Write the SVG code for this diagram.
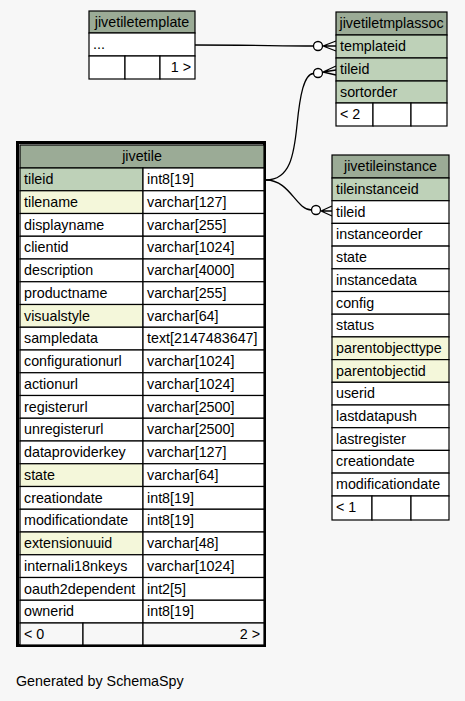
<svg xmlns="http://www.w3.org/2000/svg" width="465" height="701" viewBox="0 0 465 701">
<style>
text{font-family:"Liberation Sans",Arial,Helvetica,sans-serif;font-size:14.3px;fill:#000}
.c{stroke:#000;stroke-width:1.2}
.h{fill:#9bab96}
.pk{fill:#bed1b8}
.ix{fill:#f4f7da}
.w{fill:#fff}
.f{fill:#f7f7f7}
.mid{text-anchor:middle}
.end{text-anchor:end}
.ln{fill:none;stroke:#000;stroke-width:1.3}
.dot{fill:#fff;stroke:#000;stroke-width:1.3}
</style>
<rect width="465" height="701" fill="#f7f7f7"/>

<g id="connectors">
<path class="ln" d="M195,45 C250,45 280,46 313.5,46"/>
<circle class="dot" cx="318" cy="46" r="4.5"/>
<path class="ln" d="M323,46 L336,41 M323,46 L336,46 M323,46 L336,51"/>
<path class="ln" d="M266,180 C290,180 294,155 297,125 C300,95 304,74 313.5,73.5"/>
<circle class="dot" cx="318" cy="73" r="4.5"/>
<path class="ln" d="M323,72 L336,66 M323,72 L336,70 M323,72 L336,75"/>
<path class="ln" d="M266,180 C290,180 296,210 311.5,210"/>
<circle class="dot" cx="316" cy="210" r="4.5"/>
<path class="ln" d="M321,211 L332,206 M321,211 L332,211 M321,211 L332,216"/>
</g>

<g id="jivetiletemplate">
<rect class="c h" x="89" y="11" width="106" height="22"/>
<text class="mid" x="142" y="27">jivetiletemplate</text>
<rect class="c w" x="89" y="33" width="106" height="23"/>
<text x="93" y="49">...</text>
<rect class="c w" x="89" y="56" width="36" height="23"/>
<rect class="c w" x="125" y="56" width="35" height="23"/>
<rect class="c w" x="160" y="56" width="35" height="23"/>
<text class="end" x="191" y="72">1 &gt;</text>
</g>

<g id="jivetiletmplassoc">
<rect class="c h" x="336" y="12" width="111" height="23"/>
<text class="mid" x="391.5" y="28">jivetiletmplassoc</text>
<rect class="c pk" x="336" y="35" width="111" height="23"/>
<text x="340" y="51">templateid</text>
<rect class="c pk" x="336" y="58" width="111" height="23"/>
<text x="340" y="74">tileid</text>
<rect class="c pk" x="336" y="81" width="111" height="22"/>
<text x="340" y="97">sortorder</text>
<rect class="c w" x="336" y="103" width="37" height="23"/>
<rect class="c w" x="373" y="103" width="38" height="23"/>
<rect class="c w" x="411" y="103" width="36" height="23"/>
<text x="340" y="119">&lt; 2</text>
</g>

<g id="jivetile">
<rect x="17.5" y="142.5" width="247" height="503" fill="none" stroke="#000" stroke-width="3"/>
<rect class="c h" x="20" y="145" width="244" height="23"/>
<text class="mid" x="142" y="161">jivetile</text>
<rect class="c pk" x="20" y="168" width="123" height="22.75"/><rect class="c w" x="143" y="168" width="121" height="22.75"/>
<text x="24" y="184">tileid</text><text x="147" y="184">int8[19]</text>
<rect class="c ix" x="20" y="190.75" width="123" height="22.75"/><rect class="c w" x="143" y="190.75" width="121" height="22.75"/>
<text x="24" y="206.75">tilename</text><text x="147" y="206.75">varchar[127]</text>
<rect class="c w" x="20" y="213.5" width="123" height="22.75"/><rect class="c w" x="143" y="213.5" width="121" height="22.75"/>
<text x="24" y="229.5">displayname</text><text x="147" y="229.5">varchar[255]</text>
<rect class="c w" x="20" y="236.25" width="123" height="22.75"/><rect class="c w" x="143" y="236.25" width="121" height="22.75"/>
<text x="24" y="252.25">clientid</text><text x="147" y="252.25">varchar[1024]</text>
<rect class="c w" x="20" y="259" width="123" height="22.75"/><rect class="c w" x="143" y="259" width="121" height="22.75"/>
<text x="24" y="275">description</text><text x="147" y="275">varchar[4000]</text>
<rect class="c w" x="20" y="281.75" width="123" height="22.75"/><rect class="c w" x="143" y="281.75" width="121" height="22.75"/>
<text x="24" y="297.75">productname</text><text x="147" y="297.75">varchar[255]</text>
<rect class="c ix" x="20" y="304.5" width="123" height="22.75"/><rect class="c w" x="143" y="304.5" width="121" height="22.75"/>
<text x="24" y="320.5">visualstyle</text><text x="147" y="320.5">varchar[64]</text>
<rect class="c w" x="20" y="327.25" width="123" height="22.75"/><rect class="c w" x="143" y="327.25" width="121" height="22.75"/>
<text x="24" y="343.25">sampledata</text><text x="147" y="343.25">text[2147483647]</text>
<rect class="c w" x="20" y="350" width="123" height="22.75"/><rect class="c w" x="143" y="350" width="121" height="22.75"/>
<text x="24" y="366">configurationurl</text><text x="147" y="366">varchar[1024]</text>
<rect class="c w" x="20" y="372.75" width="123" height="22.75"/><rect class="c w" x="143" y="372.75" width="121" height="22.75"/>
<text x="24" y="388.75">actionurl</text><text x="147" y="388.75">varchar[1024]</text>
<rect class="c w" x="20" y="395.5" width="123" height="22.75"/><rect class="c w" x="143" y="395.5" width="121" height="22.75"/>
<text x="24" y="411.5">registerurl</text><text x="147" y="411.5">varchar[2500]</text>
<rect class="c w" x="20" y="418.25" width="123" height="22.75"/><rect class="c w" x="143" y="418.25" width="121" height="22.75"/>
<text x="24" y="434.25">unregisterurl</text><text x="147" y="434.25">varchar[2500]</text>
<rect class="c w" x="20" y="441" width="123" height="22.75"/><rect class="c w" x="143" y="441" width="121" height="22.75"/>
<text x="24" y="457">dataproviderkey</text><text x="147" y="457">varchar[127]</text>
<rect class="c ix" x="20" y="463.75" width="123" height="22.75"/><rect class="c w" x="143" y="463.75" width="121" height="22.75"/>
<text x="24" y="479.75">state</text><text x="147" y="479.75">varchar[64]</text>
<rect class="c w" x="20" y="486.5" width="123" height="22.75"/><rect class="c w" x="143" y="486.5" width="121" height="22.75"/>
<text x="24" y="502.5">creationdate</text><text x="147" y="502.5">int8[19]</text>
<rect class="c w" x="20" y="509.25" width="123" height="22.75"/><rect class="c w" x="143" y="509.25" width="121" height="22.75"/>
<text x="24" y="525.25">modificationdate</text><text x="147" y="525.25">int8[19]</text>
<rect class="c ix" x="20" y="532" width="123" height="22.75"/><rect class="c w" x="143" y="532" width="121" height="22.75"/>
<text x="24" y="548">extensionuuid</text><text x="147" y="548">varchar[48]</text>
<rect class="c w" x="20" y="554.75" width="123" height="22.75"/><rect class="c w" x="143" y="554.75" width="121" height="22.75"/>
<text x="24" y="570.75">internali18nkeys</text><text x="147" y="570.75">varchar[1024]</text>
<rect class="c w" x="20" y="577.5" width="123" height="22.75"/><rect class="c w" x="143" y="577.5" width="121" height="22.75"/>
<text x="24" y="593.5">oauth2dependent</text><text x="147" y="593.5">int2[5]</text>
<rect class="c w" x="20" y="600.25" width="123" height="22.75"/><rect class="c w" x="143" y="600.25" width="121" height="22.75"/>
<text x="24" y="616.25">ownerid</text><text x="147" y="616.25">int8[19]</text>
<rect class="c f" x="20" y="623" width="63" height="22"/>
<rect class="c f" x="83" y="623" width="60" height="22"/>
<rect class="c f" x="143" y="623" width="121" height="22"/>
<text x="24" y="639">&lt; 0</text>
<text class="end" x="260" y="639">2 &gt;</text>
</g>

<g id="jivetileinstance">
<rect class="c h" x="332" y="155" width="117" height="23"/>
<text class="mid" x="390.5" y="171">jivetileinstance</text>
<rect class="c pk" x="332" y="178" width="117" height="22.7"/><text x="336" y="194">tileinstanceid</text>
<rect class="c w" x="332" y="200.7" width="117" height="22.7"/><text x="336" y="216.7">tileid</text>
<rect class="c w" x="332" y="223.4" width="117" height="22.7"/><text x="336" y="239.4">instanceorder</text>
<rect class="c w" x="332" y="246.1" width="117" height="22.7"/><text x="336" y="262.1">state</text>
<rect class="c w" x="332" y="268.8" width="117" height="22.7"/><text x="336" y="284.8">instancedata</text>
<rect class="c w" x="332" y="291.5" width="117" height="22.7"/><text x="336" y="307.5">config</text>
<rect class="c w" x="332" y="314.2" width="117" height="22.7"/><text x="336" y="330.2">status</text>
<rect class="c ix" x="332" y="336.9" width="117" height="22.7"/><text x="336" y="352.9">parentobjecttype</text>
<rect class="c ix" x="332" y="359.6" width="117" height="22.7"/><text x="336" y="375.6">parentobjectid</text>
<rect class="c w" x="332" y="382.3" width="117" height="22.7"/><text x="336" y="398.3">userid</text>
<rect class="c w" x="332" y="405" width="117" height="22.7"/><text x="336" y="421">lastdatapush</text>
<rect class="c w" x="332" y="427.7" width="117" height="22.7"/><text x="336" y="443.7">lastregister</text>
<rect class="c w" x="332" y="450.4" width="117" height="22.7"/><text x="336" y="466.4">creationdate</text>
<rect class="c w" x="332" y="473.1" width="117" height="22.9"/><text x="336" y="489.1">modificationdate</text>
<rect class="c w" x="332" y="496" width="40" height="24"/>
<rect class="c w" x="372" y="496" width="39" height="24"/>
<rect class="c w" x="411" y="496" width="38" height="24"/>
<text x="336" y="512">&lt; 1</text>
</g>

<text x="16" y="686">Generated by SchemaSpy</text>
</svg>
